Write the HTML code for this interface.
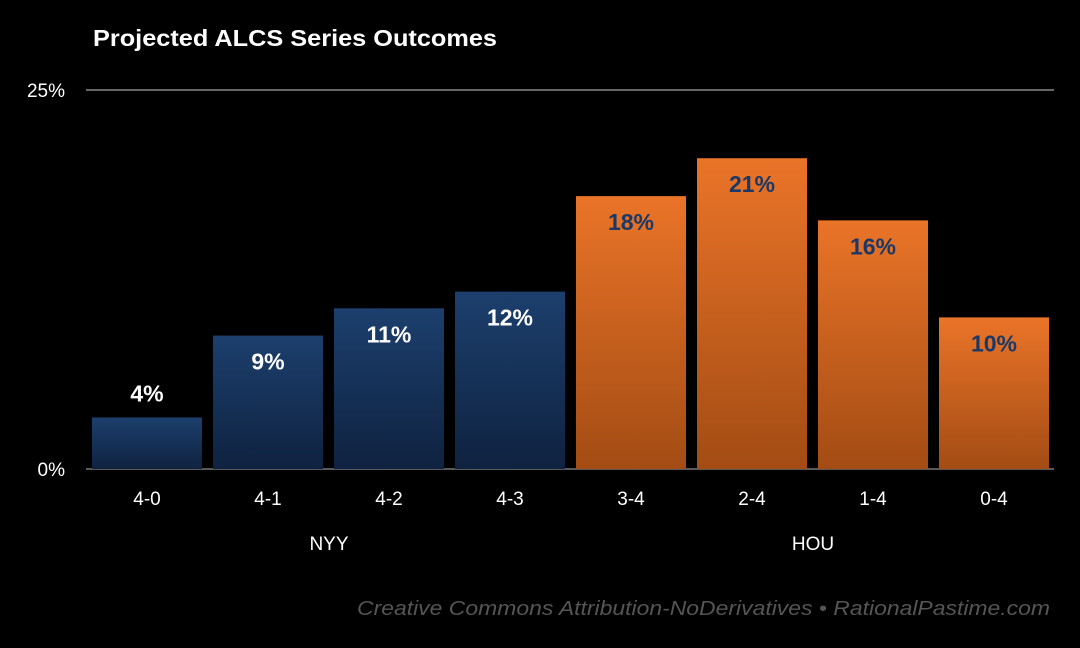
<!DOCTYPE html>
<html><head><meta charset="utf-8"><style>
html,body{margin:0;padding:0;background:#000;}
svg{display:block;font-family:"Liberation Sans",sans-serif;}
</style></head><body>
<svg id="chart" width="1080" height="648" viewBox="0 0 1080 648">
<defs>
<linearGradient id="gNavy" x1="0" y1="0" x2="0" y2="1"><stop offset="0" stop-color="#1c3f6d"/><stop offset="1" stop-color="#0f2240"/></linearGradient>
<linearGradient id="gOrange" x1="0" y1="0" x2="0" y2="1"><stop offset="0" stop-color="#ea7428"/><stop offset="1" stop-color="#a34c14"/></linearGradient>
</defs>
<text x="93" y="46" fill="#fff" font-size="23" font-weight="bold" textLength="404" lengthAdjust="spacingAndGlyphs">Projected ALCS Series Outcomes</text>
<g id="grid"></g>
<g id="bars"></g>
<g id="xlabels"></g>
<text x="329" y="550" fill="#fff" font-size="19" text-anchor="middle">NYY</text>
<text x="813" y="550" fill="#fff" font-size="19" text-anchor="middle">HOU</text>
<text x="357" y="615" fill="#555" font-size="20" font-style="italic" textLength="693" lengthAdjust="spacingAndGlyphs">Creative Commons Attribution-NoDerivatives • RationalPastime.com</text>
</svg>
<script>
const categories = ["4-0","4-1","4-2","4-3","3-4","2-4","1-4","0-4"];
const values = [3.4, 8.8, 10.6, 11.7, 18.0, 20.5, 16.4, 10.0];
const valueLabels = ["4%","9%","11%","12%","18%","21%","16%","10%"];
const teams = ["NYY","NYY","NYY","NYY","HOU","HOU","HOU","HOU"];
const yTicks = [0, 25];
const yTickLabels = ["0%","25%"];

const NS="http://www.w3.org/2000/svg";
const x0=86.5, band=121, barW=110, yBase=469, yTop=90, yMax=25;
const y=v=>yBase-(v/yMax)*(yBase-yTop);
const xc=i=>x0+band*i+band/2;
function mk(tag,attrs,parent,text){const e=document.createElementNS(NS,tag);for(const k in attrs)e.setAttribute(k,attrs[k]);if(text!=null)e.textContent=text;parent.appendChild(e);return e;}
const grid=document.getElementById('grid'),bars=document.getElementById('bars'),xl=document.getElementById('xlabels');
yTicks.forEach((t,i)=>{
  const l=mk('line',{x1:86,x2:1054,y1:y(t),y2:y(t),stroke:t===0?'#777':'#888','stroke-width':1.5},grid);
  
  
  const tx=mk('text',{x:65,y:y(t)+7,fill:'#fff','font-size':19,'text-anchor':'end'},grid,yTickLabels[i]);
  
  
});
categories.forEach((c,i)=>{
  const isN=teams[i]==="NYY";
  const top=y(values[i]);
  const r=mk('rect',{x:xc(i)-barW/2,y:top,width:barW,height:yBase-top,fill:isN?'url(#gNavy)':'url(#gOrange)'},bars);
  
  
  const inside=(yBase-top)>80;
  const ly=inside?top+34:top-16;
  const t=mk('text',{x:xc(i),y:ly,fill:isN?'#fff':'#1b3866','font-size':23,'font-weight':'bold','text-anchor':'middle'},bars,valueLabels[i]);
  
  
  const xt=mk('text',{x:xc(i),y:505,fill:'#fff','font-size':19,'text-anchor':'middle'},xl,c);
  
  
});
</script>
</body></html>
